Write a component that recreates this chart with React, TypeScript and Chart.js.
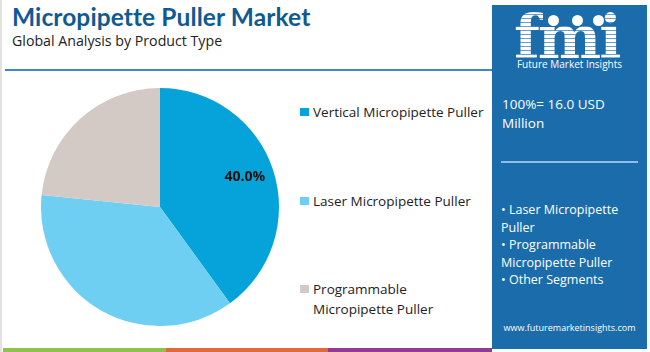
import React, { useEffect, useRef } from "react";
import { Chart, registerables } from "chart.js";

Chart.register(...registerables);

const categories = [
  "Vertical Micropipette Puller",
  "Laser Micropipette Puller",
  "Programmable Micropipette Puller",
];
const legendLines = [
  ["Vertical Micropipette Puller"],
  ["Laser Micropipette Puller"],
  ["Programmable", "Micropipette Puller"],
];
const shares = [40.0, 36.6, 23.4];
const showValue = [true, false, false];
const colors = ["#05a3da", "#6fcff3", "#d4cac5"];
const panelTotal = ["100%= 16.0 USD", "Million"];
const panelSegments = [
  "• Laser Micropipette",
  "Puller",
  "• Programmable",
  "Micropipette Puller",
  "• Other Segments",
];

const FONT = "Poppins, 'Open Sans', 'Noto Sans', sans-serif";

const valueLabels = {
  id: "valueLabels",
  afterDatasetsDraw(chart: any) {
    const ctx = chart.ctx;
    const meta = chart.getDatasetMeta(0);
    meta.data.forEach((arc: any, i: number) => {
      if (!showValue[i]) return;
      const { x, y, startAngle, endAngle, outerRadius } = arc.getProps(
        ["x", "y", "startAngle", "endAngle", "outerRadius"],
        true
      );
      const mid = (startAngle + endAngle) / 2;
      const r = outerRadius * 0.75;
      ctx.save();
      ctx.font = "bold 14px 'Open Sans', sans-serif";
      ctx.fillStyle = "#111";
      ctx.textAlign = "center";
      ctx.textBaseline = "middle";
      ctx.fillText(shares[i].toFixed(1) + "%", x + r * Math.cos(mid), y + r * Math.sin(mid) - 2);
      ctx.restore();
    });
  },
};

function PieChart() {
  const ref = useRef<HTMLCanvasElement | null>(null);
  useEffect(() => {
    if (!ref.current) return;
    const chart = new Chart(ref.current, {
      type: "pie",
      data: {
        labels: categories,
        datasets: [
          {
            data: shares,
            backgroundColor: colors,
            borderWidth: 0,
          },
        ],
      },
      options: {
        responsive: false,
        maintainAspectRatio: false,
        animation: false,
        layout: { padding: 0 },
        plugins: {
          legend: { display: false },
          tooltip: { enabled: false },
        },
      },
      plugins: [valueLabels],
    });
    return () => chart.destroy();
  }, []);
  return (
    <canvas
      ref={ref}
      width={238}
      height={238}
      style={{ position: "absolute", left: 41, top: 88, width: 238, height: 238 }}
    />
  );
}

export default function App() {
  const legendTops = [[112], [201], [289, 309]];
  return (
    <div
      style={{
        position: "fixed",
        left: 0,
        top: 0,
        width: 650,
        height: 352,
        background: "#fff",
        overflow: "hidden",
        fontFamily: FONT,
      }}
    >
      <div style={{ position: "absolute", left: 0, top: 0, width: 2, height: 352, background: "#e2e2e2" }} />
      <div
        style={{
          position: "absolute",
          left: 12,
          top: 2,
          fontSize: 24.5,
          fontWeight: 700,
          color: "#0f5a92",
          whiteSpace: "nowrap",
          fontFamily: "Lato, sans-serif",
          letterSpacing: 0.1,
        }}
      >
        Micropipette Puller Market
      </div>
      <div
        style={{
          position: "absolute",
          left: 12,
          top: 31,
          fontSize: 14.2,
          color: "#222",
          whiteSpace: "nowrap",
          fontFamily: "'Open Sans', sans-serif",
        }}
      >
        Global Analysis by Product Type
      </div>
      <div style={{ position: "absolute", left: 5, top: 69, width: 490, height: 2, background: "#3f86c6" }} />

      <PieChart />

      {legendLines.map((lines, i) => (
        <React.Fragment key={i}>
          <div
            style={{
              position: "absolute",
              left: 300,
              top: legendTops[i][0] - 4,
              width: 9,
              height: 8,
              background: colors[i],
            }}
          />
          {lines.map((t, j) => (
            <div
              key={j}
              style={{
                position: "absolute",
                left: 313,
                top: legendTops[i][j] - 10,
                height: 20,
                lineHeight: "20px",
                fontSize: 13.5,
                color: "#222",
                whiteSpace: "nowrap",
                fontFamily: "'Open Sans', sans-serif",
              }}
            >
              {t}
            </div>
          ))}
        </React.Fragment>
      ))}

      <div
        style={{
          position: "absolute",
          left: 492,
          top: 5,
          width: 155,
          height: 344,
          background: "#1b6cab",
          color: "#fff",
          fontFamily: "'Open Sans', sans-serif",
        }}
      >
        <div
          style={{
            position: "absolute",
            left: 22,
            top: 2,
            fontSize: 60,
            lineHeight: "60px",
            fontWeight: 700,
            fontFamily: "'DejaVu Serif', serif",
            letterSpacing: -2,
            backgroundImage:
              "repeating-linear-gradient(180deg, #ffffff 0px, #ffffff 3px, rgba(255,255,255,0.35) 3px, rgba(255,255,255,0.35) 4px)",
            WebkitBackgroundClip: "text",
            backgroundClip: "text",
            color: "transparent",
          }}
        >
          fmi
        </div>
        {[56, 80, 101].map((x, k) => (
          <div
            key={k}
            style={{
              position: "absolute",
              left: x,
              top: 10,
              width: 11,
              height: 11,
              borderRadius: "50%",
              background: "#fff",
            }}
          />
        ))}
        <div
          style={{
            position: "absolute",
            left: 0,
            width: 155,
            top: 52,
            textAlign: "center",
            fontSize: 10,
            whiteSpace: "nowrap",
          }}
        >
          Future Market Insights
        </div>
        {panelTotal.map((t, i) => (
          <div
            key={i}
            style={{
              position: "absolute",
              left: 10,
              top: 89 + i * 19,
              fontSize: 13.5,
              lineHeight: "20px",
              whiteSpace: "nowrap",
            }}
          >
            {t}
          </div>
        ))}
        <div style={{ position: "absolute", left: 9, top: 156, width: 137, height: 1.5, background: "#8fbde6" }} />
        {panelSegments.map((t, i) => (
          <div
            key={i}
            style={{
              position: "absolute",
              left: 9,
              top: 196 + i * 17.5,
              fontSize: 12.5,
              lineHeight: "18px",
              whiteSpace: "nowrap",
            }}
          >
            {t}
          </div>
        ))}
        <div
          style={{
            position: "absolute",
            left: 0,
            width: 155,
            top: 316,
            textAlign: "center",
            fontSize: 9,
            whiteSpace: "nowrap",
          }}
        >
          www.futuremarketinsights.com
        </div>
      </div>

      <div style={{ position: "absolute", left: 3, top: 348, width: 163, height: 4, background: "#8fc14f" }} />
      <div style={{ position: "absolute", left: 166, top: 348, width: 162, height: 4, background: "#e06a3b" }} />
      <div style={{ position: "absolute", left: 328, top: 348, width: 164, height: 4, background: "#923b95" }} />
    </div>
  );
}
